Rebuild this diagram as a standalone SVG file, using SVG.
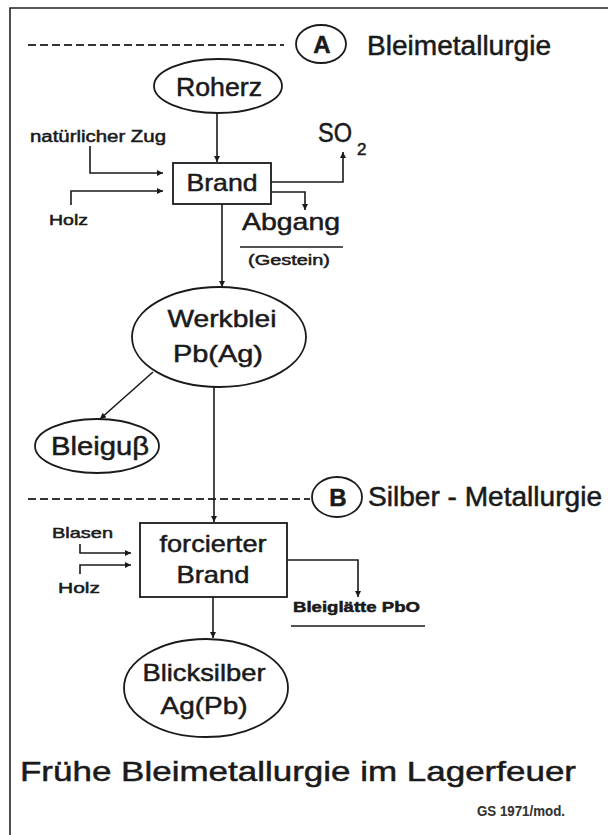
<svg xmlns="http://www.w3.org/2000/svg" width="608" height="835" viewBox="0 0 608 835">
<style>
text{font-family:"Liberation Sans",Arial,sans-serif;fill:#1a1a1a;stroke:#1a1a1a;stroke-width:0.5}
.sm{font-size:15px}
.md{font-size:24px}
.lg{font-size:27px}
.c{text-anchor:middle}
.shape{fill:none;stroke:#1a1a1a;stroke-width:1.8}
.ln{fill:none;stroke:#1a1a1a;stroke-width:1.6}
.dash{fill:none;stroke:#333;stroke-width:2;stroke-dasharray:8 4}
</style>
<defs>
<marker id="ah" viewBox="0 0 10 10" refX="10" refY="5" markerWidth="7" markerHeight="6" markerUnits="userSpaceOnUse" orient="auto">
<path d="M0,0 L10,5 L0,10 z" fill="#1a1a1a"/>
</marker>
</defs>
<rect width="608" height="835" fill="#fff"/>
<path d="M10,835 V8 H608" fill="none" stroke="#222" stroke-width="1.6"/>

<g id="sectionA">
<line class="dash" x1="28" y1="45" x2="284" y2="45"/>
<ellipse class="shape" cx="321" cy="44" rx="25" ry="19"/>
<text class="c" x="322" y="53" style="font-size:24px;font-weight:bold">A</text>
<text class="lg" x="367" y="55" textLength="184" lengthAdjust="spacingAndGlyphs">Bleimetallurgie</text>
</g>

<g id="roherz">
<ellipse class="shape" cx="218" cy="86" rx="64" ry="27"/>
<text class="c" x="219" y="96" style="font-size:25px" textLength="86" lengthAdjust="spacingAndGlyphs">Roherz</text>
</g>

<g id="zug"><text x="30" y="142" style="font-size:16px" textLength="136" lengthAdjust="spacingAndGlyphs">natürlicher Zug</text></g>
<g id="holz1"><text class="sm" x="49" y="225" textLength="39" lengthAdjust="spacingAndGlyphs">Holz</text></g>

<g id="brand">
<rect class="shape" x="173" y="163" width="98" height="41"/>
<text class="c" x="222" y="191" style="font-size:24px" textLength="71" lengthAdjust="spacingAndGlyphs">Brand</text>
</g>

<g id="so2">
<text x="318" y="142" style="font-size:27px" textLength="34" lengthAdjust="spacingAndGlyphs">SO</text>
<text x="357" y="155" style="font-size:17px">2</text>
</g>

<g id="abgang">
<text x="242" y="230" style="font-size:24px" textLength="98" lengthAdjust="spacingAndGlyphs">Abgang</text>
<line class="ln" x1="240" y1="247" x2="343" y2="247"/>
<text x="248" y="265" style="font-size:15px" textLength="82" lengthAdjust="spacingAndGlyphs">(Gestein)</text>
</g>

<g id="werkblei">
<ellipse class="shape" cx="219" cy="337" rx="87" ry="50"/>
<text class="c md" x="222" y="327" textLength="109" lengthAdjust="spacingAndGlyphs">Werkblei</text>
<text class="c md" x="218" y="362" textLength="90" lengthAdjust="spacingAndGlyphs">Pb(Ag)</text>
</g>

<g id="bleiguss">
<ellipse class="shape" cx="97" cy="446" rx="62" ry="27"/>
<text class="c" x="100" y="455" style="font-size:25px" textLength="98" lengthAdjust="spacingAndGlyphs">Bleiguβ</text>
</g>

<g id="sectionB">
<line class="dash" x1="28" y1="499" x2="310" y2="499"/>
<ellipse class="shape" cx="337" cy="497" rx="25" ry="20"/>
<text class="c" x="338" y="506" style="font-size:24px;font-weight:bold">B</text>
<text class="lg" x="368" y="506" textLength="234" lengthAdjust="spacingAndGlyphs">Silber - Metallurgie</text>
</g>

<g id="blasen"><text class="sm" x="52" y="538" textLength="61" lengthAdjust="spacingAndGlyphs">Blasen</text></g>
<g id="holz2"><text class="sm" x="58" y="593" textLength="42" lengthAdjust="spacingAndGlyphs">Holz</text></g>

<g id="forciert">
<rect class="shape" x="140" y="523" width="147" height="74"/>
<text class="c md" x="213" y="552" textLength="107" lengthAdjust="spacingAndGlyphs">forcierter</text>
<text class="c md" x="213" y="583" textLength="73" lengthAdjust="spacingAndGlyphs">Brand</text>
</g>

<g id="bleiglaette">
<text x="293" y="612" style="font-size:14px;font-weight:bold" textLength="127" lengthAdjust="spacingAndGlyphs">Bleiglätte PbO</text>
<line class="ln" x1="291" y1="626" x2="425" y2="626"/>
</g>

<g id="blicksilber">
<ellipse class="shape" cx="206" cy="688" rx="82" ry="49"/>
<text class="c md" x="204" y="681" textLength="123" lengthAdjust="spacingAndGlyphs">Blicksilber</text>
<text class="c md" x="204" y="714" textLength="87" lengthAdjust="spacingAndGlyphs">Ag(Pb)</text>
</g>

<g id="title">
<text x="20" y="781" style="font-size:28px" textLength="556" lengthAdjust="spacingAndGlyphs">Frühe Bleimetallurgie im Lagerfeuer</text>
<text x="477" y="816" style="font-size:14px;font-weight:bold;fill:#333;stroke:#333;stroke-width:0.1" textLength="88" lengthAdjust="spacingAndGlyphs">GS 1971/mod.</text>
</g>

<g id="connectors">
<path class="ln" d="M217,113 V162" marker-end="url(#ah)"/>
<path class="ln" d="M90,146 V173 H163" marker-end="url(#ah)"/>
<path class="ln" d="M71,205 V191 H163" marker-end="url(#ah)"/>
<path class="ln" d="M271,182 H343 V152" marker-end="url(#ah)"/>
<path class="ln" d="M271,192 H305 V210" marker-end="url(#ah)"/>
<path class="ln" d="M222,204 V287" marker-end="url(#ah)"/>
<path class="ln" d="M153,372 L100,419" marker-end="url(#ah)"/>
<path class="ln" d="M214,387 V522" marker-end="url(#ah)"/>
<path class="ln" d="M80,544 V553 H131" marker-end="url(#ah)"/>
<path class="ln" d="M80,574 V565 H131" marker-end="url(#ah)"/>
<path class="ln" d="M287,560 H358 V597" marker-end="url(#ah)"/>
<path class="ln" d="M213,597 V638" marker-end="url(#ah)"/>
</g>
</svg>
